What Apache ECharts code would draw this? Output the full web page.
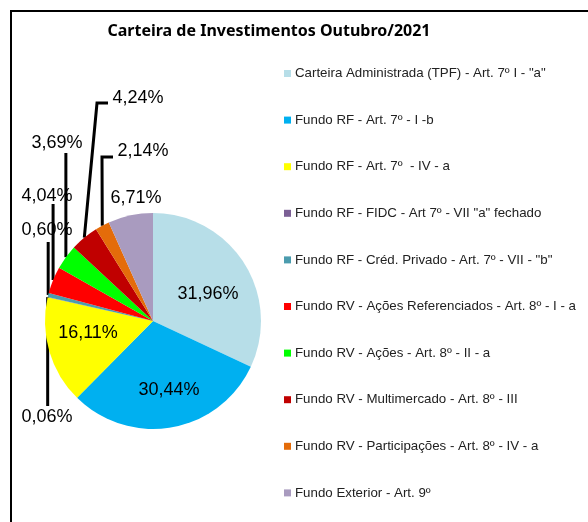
<!DOCTYPE html>
<html>
<head>
<meta charset="utf-8">
<script src="https://cdn.jsdelivr.net/npm/echarts@6/dist/echarts.min.js"></script>
<style>
  html, body { margin: 0; padding: 0; background: #fff; }
  #chart { width: 588px; height: 522px; }
</style>
</head>
<body>
<div id="chart"></div>
<script>
// categorias da carteira
var categorias = [
  'Carteira Administrada (TPF) - Art. 7º I - "a"',
  'Fundo RF - Art. 7º - I -b',
  'Fundo RF - Art. 7º  - IV - a',
  'Fundo RF - FIDC - Art 7º - VII "a" fechado',
  'Fundo RF - Créd. Privado - Art. 7º - VII - "b"',
  'Fundo RV - Ações Referenciados - Art. 8º - I - a',
  'Fundo RV - Ações - Art. 8º - II - a',
  'Fundo RV - Multimercado - Art. 8º - III',
  'Fundo RV - Participações - Art. 8º - IV - a',
  'Fundo Exterior - Art. 9º'
];

// percentuais (%)
var percentuais = [31.96, 30.44, 16.11, 0.06, 0.60, 4.04, 3.69, 4.24, 2.14, 6.71];

var cores = ['#b7dee8', '#00b0f0', '#ffff00', '#7b5f95', '#4b9cae',
             '#ff0000', '#00ff00', '#c00000', '#e46c0a', '#a99bbf'];

// posição dos rótulos (centro do texto) e fim da linha guia, por índice
var rotulos = [
  { x: 208, y: 294 },
  { x: 169, y: 390 },
  { x: 88, y: 333 },
  { x: 47, y: 417, linha: 'vert', ate: 406 },
  { x: 47, y: 230, linha: 'vert', ate: 242 },
  { x: 47, y: 196, linha: 'vert', ate: 204 },
  { x: 57, y: 143, linha: 'vert', ate: 153 },
  { x: 138, y: 98, linha: 'cotovelo', p1: [97, 103], p2: [108, 103] },
  { x: 143, y: 151, linha: 'cotovelo', p1: [102, 157], p2: [113, 157] },
  { x: 136, y: 198 }
];

var chart = echarts.init(document.getElementById('chart'));

var dados = percentuais.map(function (v, i) {
  return {
    name: categorias[i],
    value: v,
    itemStyle: { color: cores[i] },
    labelLine: { show: !!rotulos[i].linha }
  };
});

var option = {
  backgroundColor: '#fff',
  animation: false,
  title: {
    text: 'Carteira de Investimentos Outubro/2021',
    left: 264,
    top: 18,
    textAlign: 'center',
    textStyle: {
      fontFamily: 'Noto Sans',
      fontWeight: 'bold',
      fontSize: 16,
      color: '#000'
    }
  },
  legend: {
    orient: 'vertical',
    left: 284,
    top: 67,
    padding: 0,
    itemWidth: 7,
    itemHeight: 7,
    itemGap: 33.6,
    icon: 'rect',
    textStyle: {
      fontFamily: 'Liberation Sans',
      fontSize: 13.3,
      color: '#222',
      padding: [0, 0, 0, -1]
    },
    data: categorias
  },
  graphic: [{
    type: 'rect',
    shape: { x: 11, y: 11, width: 620, height: 620 },
    style: { fill: 'none', stroke: '#000', lineWidth: 2 },
    silent: true
  }],
  series: [{
    name: 'Carteira',
    type: 'pie',
    center: [153, 321],
    radius: 108,
    startAngle: 90,
    clockwise: true,
    avoidLabelOverlap: false,
    itemStyle: { borderWidth: 0 },
    label: {
      show: true,
      position: 'outside',
      fontFamily: 'Liberation Sans',
      fontSize: 18,
      color: '#000',
      formatter: function (p) {
        return p.value.toFixed(2).replace('.', ',') + '%';
      }
    },
    labelLine: {
      show: true,
      lineStyle: { color: '#000', width: 3 }
    },
    labelLayout: function (params) {
      var r = rotulos[params.dataIndex];
      var res = { x: r.x, y: r.y, align: 'center', verticalAlign: 'middle' };
      var pts = params.labelLinePoints;
      if (r.linha && pts) {
        var p0 = pts[0];
        if (r.linha === 'vert') {
          res.labelLinePoints = [p0, [p0[0], r.ate], [p0[0], r.ate]];
        } else {
          res.labelLinePoints = [p0, r.p1, r.p2];
        }
      }
      return res;
    },
    data: dados
  }]
};

chart.setOption(option);
</script>
</body>
</html>
